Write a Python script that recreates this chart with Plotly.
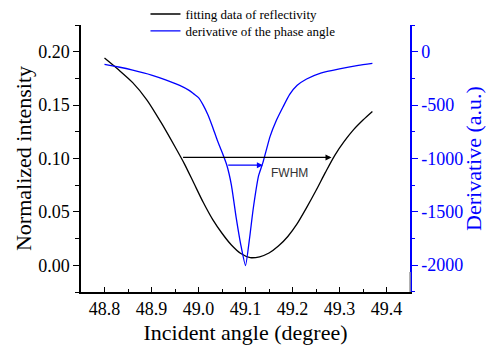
import plotly.graph_objects as go

# Reflectivity fit (left axis)
angle_r = [48.80, 48.83, 48.86, 48.89, 48.92, 48.95, 48.97, 48.99, 49.01, 49.03,
           49.05, 49.07, 49.09, 49.11, 49.13, 49.15, 49.17, 49.19, 49.21, 49.23,
           49.25, 49.27, 49.29, 49.31, 49.33, 49.35, 49.37]
refl = [0.194, 0.183, 0.171, 0.155, 0.134, 0.111, 0.095, 0.077, 0.059, 0.043,
        0.030, 0.019, 0.011, 0.0072, 0.0080, 0.0115, 0.018, 0.027, 0.039, 0.054,
        0.070, 0.087, 0.103, 0.116, 0.127, 0.136, 0.144]

# Derivative of the phase angle (right axis)
angle_d = [48.80, 48.83, 48.86, 48.90, 48.93, 48.96, 48.98, 48.99, 49.00, 49.01, 49.02,
           49.03, 49.04, 49.05, 49.06, 49.07, 49.08, 49.09, 49.100,
           49.109, 49.116, 49.128, 49.137, 49.145, 49.152, 49.166, 49.18, 49.194,
           49.21, 49.23, 49.26, 49.30, 49.34, 49.37]
deriv = [-118, -143, -172, -218, -263, -315, -362, -395, -430, -500, -590,
         -705, -830, -940, -1060, -1250, -1550, -1810, -2005,
         -1737, -1486, -1160, -1040, -910, -798, -641, -516, -400,
         -315, -255, -200, -160, -128, -109]

# Right-axis tick labels (plain hyphen minus)
deriv_ticks = [0, -500, -1000, -1500, -2000]
deriv_ticktext = ["0", "-500", "-1000", "-1500", "-2000"]

# FWHM markers
fwhm_r = [48.964, 49.283, 0.101]
fwhm_d = [49.060, 49.137, -1064]

serif = "Liberation Serif"
blue = "#0000ff"

fig = go.Figure()
fig.add_trace(go.Scatter(x=angle_r, y=refl, mode="lines",
                         line=dict(color="black", width=1.3, shape="spline", smoothing=0.8),
                         name="fitting data of reflectivity", legend="legend"))
fig.add_trace(go.Scatter(x=angle_d, y=deriv, mode="lines",
                         line=dict(color=blue, width=1.3, shape="spline", smoothing=0.5),
                         name="derivative of the phase angle", yaxis="y2", legend="legend2"))

fig.add_annotation(x=fwhm_r[1], y=fwhm_r[2], ax=fwhm_r[0], ay=fwhm_r[2], xref="x", yref="y",
                   axref="x", ayref="y", text="", showarrow=True, arrowhead=2, arrowsize=1,
                   arrowwidth=1.2, arrowcolor="black", standoff=0, startstandoff=0)
fig.add_annotation(x=fwhm_d[1], y=fwhm_d[2], ax=fwhm_d[0], ay=fwhm_d[2], xref="x", yref="y2",
                   axref="x", ayref="y2", text="", showarrow=True, arrowhead=2, arrowsize=1,
                   arrowwidth=1.2, arrowcolor=blue, standoff=0, startstandoff=0)
fig.add_annotation(x=49.193, y=0.086, xref="x", yref="y", text="FWHM", showarrow=False,
                   font=dict(family="Liberation Sans", size=12, color="#333333"))

# grey lower part of right axis
fig.add_shape(type="line", xref="paper", yref="paper", x0=1, x1=1, y0=0, y1=0.075,
              line=dict(color="#999999", width=1.5))

leg_common = dict(xanchor="left", yanchor="middle", bgcolor="rgba(0,0,0,0)",
                  font=dict(family=serif, size=13, color="black"), itemwidth=30)

fig.update_layout(
    width=486, height=347,
    margin=dict(l=81, r=76, t=25, b=55, autoexpand=False),
    paper_bgcolor="white", plot_bgcolor="white",
    font=dict(family=serif, size=18, color="black"),
    showlegend=True,
    legend=dict(x=0.196, y=1.041, **leg_common),
    legend2=dict(x=0.196, y=0.9775, **leg_common),
    xaxis=dict(range=[48.75, 49.45], dtick=0.1, tickformat=".1f", showgrid=False, zeroline=False,
               showline=True, linecolor="black", linewidth=1.5, ticks="inside", ticklen=5,
               tickcolor="black", tickwidth=1.2,
               tickfont=dict(family=serif, size=18, color="black"),
               minor=dict(ticks="inside", ticklen=3, dtick=0.05, tickcolor="black", tickwidth=1.2),
               title=dict(text="Incident angle (degree)",
                          font=dict(family=serif, size=22, color="black"), standoff=6)),
    yaxis=dict(range=[-0.025, 0.225], dtick=0.05, tickformat=".2f", showgrid=False, zeroline=False,
               showline=True, linecolor="black", linewidth=1.5, ticks="outside", ticklen=6,
               tickcolor="black", tickwidth=1.2,
               tickfont=dict(family=serif, size=18, color="black"),
               minor=dict(ticks="outside", ticklen=4, dtick=0.025, tickcolor="black", tickwidth=1.2),
               title=dict(text="Normalized intensity",
                          font=dict(family=serif, size=22, color="black"), standoff=0)),
    yaxis2=dict(range=[-2253, 251], tickvals=deriv_ticks, ticktext=deriv_ticktext,
                overlaying="y", side="right", showgrid=False,
                zeroline=False, showline=True, linecolor=blue, linewidth=1.5, ticks="outside",
                ticklen=6, tickcolor=blue, tickwidth=1.2,
                tickfont=dict(family=serif, size=18, color=blue),
                minor=dict(ticks="outside", ticklen=3, dtick=250, tickcolor=blue, tickwidth=1.2),
                title=dict(text="Derivative (a.u.)",
                           font=dict(family=serif, size=22, color=blue), standoff=16)),
)

fig.write_html("out.html")
